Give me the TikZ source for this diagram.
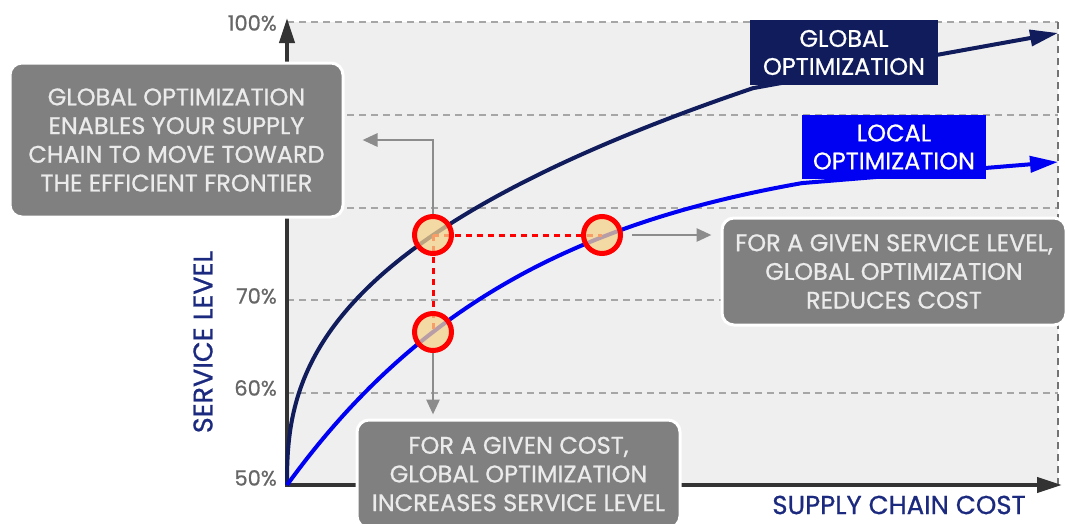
\documentclass[tikz,border=0pt]{standalone}
\usepackage{fontspec}
\setmainfont{Poppins}[FakeBold=0.8]
\usetikzlibrary{positioning,arrows.meta}
\definecolor{navy}{HTML}{101C5C}
\definecolor{axisnavy}{HTML}{1B2A7E}
\definecolor{localblue}{HTML}{0000F2}
\definecolor{notegray}{HTML}{808080}
\definecolor{panelgray}{HTML}{EFEFEF}
\definecolor{hitfill}{HTML}{F5D28C}

\begin{document}
\begin{tikzpicture}[
        x=1pt, y=-1pt,
        note/.style={rectangle, draw=white, line width=3pt, fill=notegray, rounded corners=12pt, text=white!92!black, align=center, font=\fontsize{24}{28.7}\selectfont, inner sep=0pt},
        tag/.style={rectangle, text=white, align=center, font=\fontsize{24}{28}\selectfont, inner sep=0pt},
        hit/.style={circle, draw=red, line width=5pt, fill=hitfill, fill opacity=0.75, minimum size=37pt, inner sep=0pt},
        pointer/.style={-{Triangle[length=15pt,width=13pt]}, draw=black!45, line width=2.8pt},
        link/.style={red, line width=3pt, dash pattern=on 6pt off 5pt},
        hline/.style={black!35, line width=1.5pt, dash pattern=on 7pt off 5pt},
        axis/.style={{Triangle[length=25pt,width=15pt]}-{Triangle[length=25pt,width=15pt]}, black!80, line width=4pt},
        curve/.style={line width=4pt, -{Triangle[length=28pt,width=16pt]}},
        tick/.style={anchor=east, text=black!60, font=\fontsize{21}{21}\selectfont, inner sep=0pt}
    ]
    \useasboundingbox (0,0) rectangle (1065,523);

    % Panel and grid
    \fill[panelgray] (287,22) rectangle (1058,485);
    \foreach \yy in {22,115,208,300,393}
        \draw[hline] (287,\yy) -- (1058,\yy);
    \draw[hline, black!55] (1058,22) -- (1058,485);

    % Axes
    \coordinate (origin) at (287,485);
    \coordinate (ytop) at (287,18);
    \coordinate (xend) at (1062,485);
    \draw[axis] (ytop) -- (origin) -- (xend);

    \node[tick] (t100) at (277,23) {100\%};
    \node[tick] (t70) at (277,296) {70\%};
    \node[tick] (t60) at (277,388) {60\%};
    \node[tick] (t50) at (277,478) {50\%};

    \node[rotate=90, text=axisnavy, font=\fontsize{27}{27}\selectfont, inner sep=0pt] (ylab) at (203,342) {SERVICE LEVEL};
    \node[text=axisnavy, font=\fontsize{26}{27}\selectfont, inner sep=0pt] (xlab) at (899,505) {SUPPLY CHAIN COST};

    % Curves
    \coordinate (gtip) at (1058,33);
    \coordinate (ltip) at (1058,162);
    \draw[curve, navy] (origin) -- plot[domain=0.1:21.59, samples=120, variable=\t] ({287+\t*\t}, {485-34.3*\t^0.797}) -- (gtip);
    \draw[curve, localblue] (origin) -- plot[domain=0:515, samples=100] ({287+\x}, {485-346*(1-exp(-\x/250))}) -- (ltip);

    % Points compared
    \draw[link] (433,235) -- (602,235);
    \draw[link] (433,235) -- (433,332);
    \node[hit] (cg) at (433,235) {};
    \node[hit] (cr) at (602,235) {};
    \node[hit] (cl) at (433,332) {};

    % Notes
    \node[note, minimum width=333pt, minimum height=154pt] (note1) at (176.5,140) {GLOBAL OPTIMIZATION\\ENABLES YOUR SUPPLY\\CHAIN TO MOVE TOWARD\\THE EFFICIENT FRONTIER};
    \node[note, minimum width=323pt, minimum height=108pt] (note2) at (518.5,474) {FOR A GIVEN COST,\\GLOBAL OPTIMIZATION\\INCREASES SERVICE LEVEL};
    \node[note, minimum width=344pt, minimum height=107pt] (note3) at (894,271.5) {FOR A GIVEN SERVICE LEVEL,\\GLOBAL OPTIMIZATION\\REDUCES COST};

    \draw[pointer] (cg.north) |- ([xshift=18pt]note1.east);
    \draw[pointer] (cl.south) -- ([yshift=4pt]cl.south |- note2.north);
    \draw[pointer, shorten <=9pt] (cr.east) -- ([xshift=-9pt]cr.east -| note3.west);

    % Curve tags
    \node[tag, fill=navy, minimum width=188pt, minimum height=65pt] (gtag) at (844,52.5) {GLOBAL\\OPTIMIZATION};
    \node[tag, fill=localblue, minimum width=184pt, minimum height=64pt] (ltag) at (894,147) {LOCAL\\OPTIMIZATION};

\end{tikzpicture}
\end{document}
